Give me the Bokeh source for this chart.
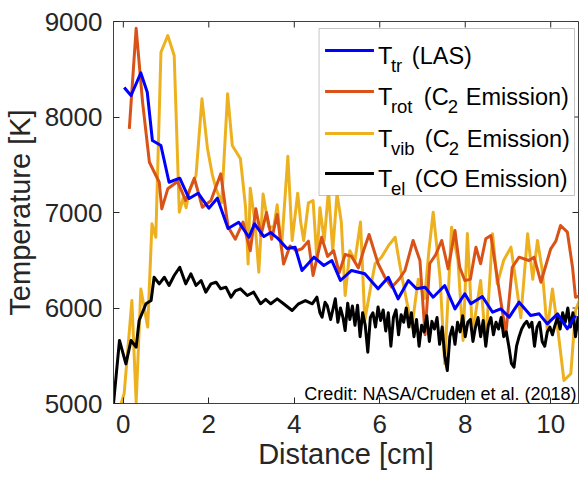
from bokeh.plotting import figure
from bokeh.models import Range1d, Label, BoxAnnotation, FixedTicker
from bokeh.embed import file_html
from bokeh.resources import INLINE

# ---------------- data ----------------
las_x = [0.02, 0.18, 0.41, 0.56, 0.68, 0.88, 1.07, 1.32, 1.54, 1.75,
         2.00, 2.20, 2.45, 2.70, 2.94, 3.07, 3.29, 3.45, 3.60, 3.83,
         4.02, 4.18, 4.46, 4.69, 4.88, 5.08, 5.34, 5.65, 5.96, 6.20,
         6.43, 6.67, 6.86, 7.06, 7.25, 7.52, 7.76, 7.99, 8.13, 8.40,
         8.64, 8.83, 9.03, 9.26, 9.53, 9.73, 9.92, 10.16, 10.39, 10.58]
las_t = [8309, 8225, 8462, 8259, 7754, 7701, 7317, 7359, 7146, 7202,
         7045, 7150, 6832, 6898, 6741, 6881, 6748, 6790, 6735, 6623,
         6636, 6393, 6532, 6445, 6497, 6288, 6393, 6358, 6201, 6322,
         6096, 6288, 6201, 6218, 6113, 6235, 5991, 6149, 6044, 6120,
         5956, 5991, 5904, 6061, 5921, 5939, 5834, 5939, 5782, 5921]

rot_x = [0.14, 0.30, 0.45, 0.61, 0.84, 0.90, 1.04, 1.27, 1.46, 1.66,
         1.85, 2.05, 2.28, 2.45, 2.62, 2.80, 2.97, 3.10, 3.22, 3.35,
         3.47, 3.60, 3.75, 3.90, 4.04, 4.18, 4.33, 4.44, 4.64, 4.78,
         4.92, 5.05, 5.19, 5.34, 5.50, 5.62, 5.75, 5.96, 6.12, 6.28,
         6.45, 6.59, 6.78, 6.94, 7.06, 7.17, 7.30, 7.45, 7.60, 7.76,
         7.87, 7.99, 8.12, 8.25, 8.36, 8.48, 8.60, 8.83, 8.95, 9.10,
         9.26, 9.49, 9.61, 9.77, 10.00, 10.12, 10.23, 10.39, 10.51, 10.58,
         10.70]
rot_t = [7876, 8929, 8155, 7526, 7317, 7038, 7248, 7324, 7125, 7359,
         7055, 7125, 7405, 6850, 6720, 6900, 6600, 7040, 6760, 7000,
         6720, 6980, 6460, 6650, 6600, 6620, 6700, 6340, 6740, 6540,
         6600, 6370, 6560, 6540, 6420, 6600, 6770, 6466, 6322, 6218,
         6300, 6393, 6707, 6497, 5720, 6466, 6550, 6707, 6410, 6811,
         6427, 6288, 6300, 6637, 6463, 6724, 6759, 6078, 5730, 6427,
         6532, 6497, 6532, 6270, 6620, 6700, 6864, 6794, 6427, 6113,
         6130]

vib_x = [-0.05, 0.02, 0.20, 0.30, 0.41, 0.57, 0.67, 0.76, 0.88, 1.04,
         1.19, 1.31, 1.40, 1.47, 1.54, 1.70, 1.84, 1.97, 2.08, 2.17,
         2.30, 2.44, 2.55, 2.74, 2.86, 2.92, 2.97, 3.08, 3.17, 3.27,
         3.40, 3.52, 3.60, 3.70, 3.85, 3.95, 4.08, 4.15, 4.22, 4.33,
         4.44, 4.53, 4.60, 4.70, 4.80, 4.90, 5.00, 5.10, 5.19, 5.30,
         5.42, 5.55, 5.65, 5.78, 5.89, 6.04, 6.20, 6.36, 6.45, 6.55,
         6.75, 6.90, 7.05, 7.15, 7.25, 7.41, 7.52, 7.68, 7.83, 7.95,
         8.05, 8.17, 8.36, 8.48, 8.64, 8.75, 8.90, 9.07, 9.18, 9.30,
         9.46, 9.58, 9.69, 9.80, 9.92, 10.04, 10.16, 10.31, 10.47, 10.58,
         10.70]
vib_t = [5000, 5105, 6078, 5013, 6200, 5800, 6881, 6741, 8678, 8853,
         8644, 7003, 7150, 7050, 7230, 7387, 8190, 7667, 7400, 7248,
         7100, 8243, 7701, 7562, 7055, 6460, 7254, 6900, 6375, 7195,
         6850, 6846, 7080, 6620, 7589, 6707, 7202, 6900, 6707, 7100,
         7125, 6500, 7050, 6707, 7230, 6600, 7200, 6900, 6131, 6600,
         6497, 6900, 5869, 6200, 6463, 6532, 6650, 6741, 6500, 6253,
         5799, 6300, 6100, 6600, 7003, 6322, 5416, 6846, 6497, 5660,
         6780, 5730, 6288, 5625, 6777, 6253, 6500, 6637, 6288, 5900,
         6777, 6300, 6707, 6400, 5764, 6200, 5799, 5241, 5311, 5974,
         6113]

el_x = [-0.23, -0.09, 0.06, 0.18, 0.30, 0.37, 0.53, 0.65, 0.72, 0.84,
        0.96, 1.07, 1.19, 1.32, 1.46, 1.58, 1.70, 1.82, 1.93, 2.05,
        2.17, 2.28, 2.40, 2.52, 2.62, 2.74, 2.90, 3.05, 3.21, 3.33,
        3.45, 3.60, 3.75, 3.95, 4.10, 4.26, 4.42, 4.53, 4.60, 4.65,
        4.72, 4.77, 4.85, 4.96, 5.02, 5.08, 5.14, 5.19, 5.25, 5.30,
        5.36, 5.42, 5.48, 5.54, 5.60, 5.66, 5.72, 5.78, 5.84, 5.90,
        5.96, 6.02, 6.08, 6.14, 6.20, 6.26, 6.32, 6.38, 6.44, 6.50,
        6.56, 6.62, 6.68, 6.74, 6.80, 6.86, 6.92, 6.98, 7.04, 7.10,
        7.16, 7.22, 7.28, 7.34, 7.40, 7.46, 7.52, 7.58, 7.64, 7.70,
        7.76, 7.82, 7.88, 7.94, 8.00, 8.06, 8.12, 8.18, 8.24, 8.30,
        8.36, 8.42, 8.48, 8.54, 8.60, 8.66, 8.72, 8.78, 8.84, 8.90,
        8.96, 9.02, 9.08, 9.14, 9.20, 9.26, 9.32, 9.38, 9.44, 9.50,
        9.56, 9.62, 9.68, 9.74, 9.80, 9.86, 9.92, 9.98, 10.04, 10.10,
        10.16, 10.22, 10.28, 10.34, 10.40, 10.46, 10.52, 10.58, 10.64, 10.70]
el_t = [5000, 5660, 5415, 5660, 5590, 5869, 6044, 6078, 6322, 6253,
        6322, 6236, 6340, 6427, 6253, 6358, 6236, 6288, 6166, 6253,
        6270, 6201, 6218, 6113, 6180, 6201, 6131, 6166, 6044, 6090,
        6044, 6096, 6044, 5974, 6044, 6078, 6044, 6113, 5950, 5904,
        6060, 6026, 5880, 6096, 5850, 6000, 5900, 5764, 6050, 5880,
        6020, 5820, 6030, 5700, 5950, 5820, 5537, 5900, 5950, 5800,
        6010, 5870, 5980, 5760, 5950, 5600, 5900, 5980, 5720, 5930,
        5850, 6000, 5800, 5950, 5700, 5880, 5600, 5820, 5750, 5920,
        5650, 5860, 5780, 5900, 5620, 5800, 5500, 5345, 5700, 5800,
        5620, 5850, 5750, 5920, 5700, 5850, 5880, 5650, 5800, 5900,
        5700, 5870, 5600, 5820, 5900, 5720, 5850, 5780, 5900, 5700,
        5750, 5600, 5420, 5380, 5600, 5700, 5780, 5830, 5860, 5800,
        5850, 5600, 5800, 5850, 5650, 5600, 5750, 5800, 5720, 5820,
        5900, 5780, 5950, 5850, 6000, 5800, 5950, 5700, 5900, 5750]

x_ticks = [0, 2, 4, 6, 8, 10]
y_ticks = [5000, 6000, 7000, 8000, 9000]

colors = {"las": "#0000FF", "rot": "#D95319", "vib": "#EDB120", "el": "#000000"}

FONT = "Liberation Sans"
AX = "#262626"

X0, X1 = -0.23, 10.65
Y0, Y1 = 5000, 9000
W, H = 580, 480
FL, FR, FT, FB = 112, 578, 21, 403   # intended frame position in canvas px


def dx(px):
    return X0 + (px - FL) * (X1 - X0) / (FR - FL)


def dy(py):
    return Y1 - (py - FT) * (Y1 - Y0) / (FB - FT)


p = figure(width=W, height=H, output_backend="svg", toolbar_location=None,
           x_range=Range1d(X0, X1), y_range=Range1d(Y0, Y1),
           min_border_left=FL, min_border_right=W - FR,
           min_border_top=FT, min_border_bottom=H - FB)
p.background_fill_color = "white"
p.border_fill_color = "white"
p.grid.visible = False
p.outline_line_color = "#404040"
p.outline_line_width = 1

for ax in (p.xaxis[0], p.yaxis[0]):
    ax.major_label_text_font = FONT
    ax.major_label_text_font_size = "26px"
    ax.major_label_text_color = AX
    ax.axis_line_color = "#404040"
    ax.major_tick_line_color = AX
    ax.major_tick_in = 6
    ax.major_tick_out = 0
    ax.minor_tick_line_color = None
    ax.axis_label_text_font = FONT
    ax.axis_label_text_font_size = "29px"
    ax.axis_label_text_font_style = "normal"
    ax.axis_label_text_color = AX

p.xaxis.ticker = FixedTicker(ticks=x_ticks)
p.yaxis.ticker = FixedTicker(ticks=y_ticks)
p.xaxis.major_label_standoff = 11
p.xaxis.axis_label = "Distance [cm]"
p.xaxis.axis_label_standoff = 2
p.yaxis.major_label_standoff = 11
p.yaxis.axis_label = "Temperature [K]"
p.yaxis.axis_label_standoff = 6

# inward ticks on the top and right edges of the box
tick_dx = 6 * (X1 - X0) / (FR - FL)
tick_dy = 6 * (Y1 - Y0) / (FB - FT)
p.segment(x0=x_ticks, y0=[Y1] * len(x_ticks), x1=x_ticks, y1=[Y1 - tick_dy] * len(x_ticks),
          line_color=AX, line_width=1)
p.segment(x0=[X1] * len(y_ticks), y0=y_ticks, x1=[X1 - tick_dx] * len(y_ticks), y1=y_ticks,
          line_color=AX, line_width=1)

LW = 3
p.line(vib_x, vib_t, line_color=colors["vib"], line_width=LW, line_join="round")
p.line(rot_x, rot_t, line_color=colors["rot"], line_width=LW, line_join="round")
p.line(el_x, el_t, line_color=colors["el"], line_width=LW, line_join="round")
p.line(las_x, las_t, line_color=colors["las"], line_width=LW, line_join="round")

# credit
p.add_layout(Label(x=X1, y=dy(393), x_offset=-2, text="Credit: NASA/Cruden et al. (2018)",
                   text_align="right", text_baseline="alphabetic", text_font=FONT,
                   text_font_size="18px", text_color="#000000"))

# legend (drawn by hand for the subscripts)
p.add_layout(BoxAnnotation(left=dx(318), right=dx(574), top=dy(28), bottom=dy(195),
                           fill_color="white", fill_alpha=1.0,
                           line_color="#404040", line_width=1))

legend_rows = [
    ("las", 50, [("T", 0, "main"), ("tr", 13, "sub"), ("(LAS)", 34, "main")]),
    ("rot", 91, [("T", 0, "main"), ("rot", 13, "sub"), ("(C", 46, "main"),
                 ("2", 70, "sub"), ("Emission)", 88, "main")]),
    ("vib", 133, [("T", 0, "main"), ("vib", 13, "sub"), ("(C", 47, "main"),
                  ("2", 71, "sub"), ("Emission)", 89, "main")]),
    ("el", 173, [("T", 0, "main"), ("el", 13, "sub"), ("(CO Emission)", 37, "main")]),
]
TX = 377
for key, yc, parts in legend_rows:
    p.add_layout(BoxAnnotation(left=dx(324), right=dx(373), top=dy(yc - 1.5),
                               bottom=dy(yc + 1.5), fill_color=colors[key], fill_alpha=1.0,
                               line_color=None))
    for txt, off, kind in parts:
        base = yc + 5 if kind == "main" else yc + 15
        size = "23.5px" if kind == "main" else "18.5px"
        p.add_layout(Label(x=dx(TX + off), y=dy(base), text=txt, text_align="left",
                           text_baseline="alphabetic", text_font=FONT,
                           text_font_size=size, text_color="#000000"))

open("out.html", "w").write(file_html(p, INLINE))
